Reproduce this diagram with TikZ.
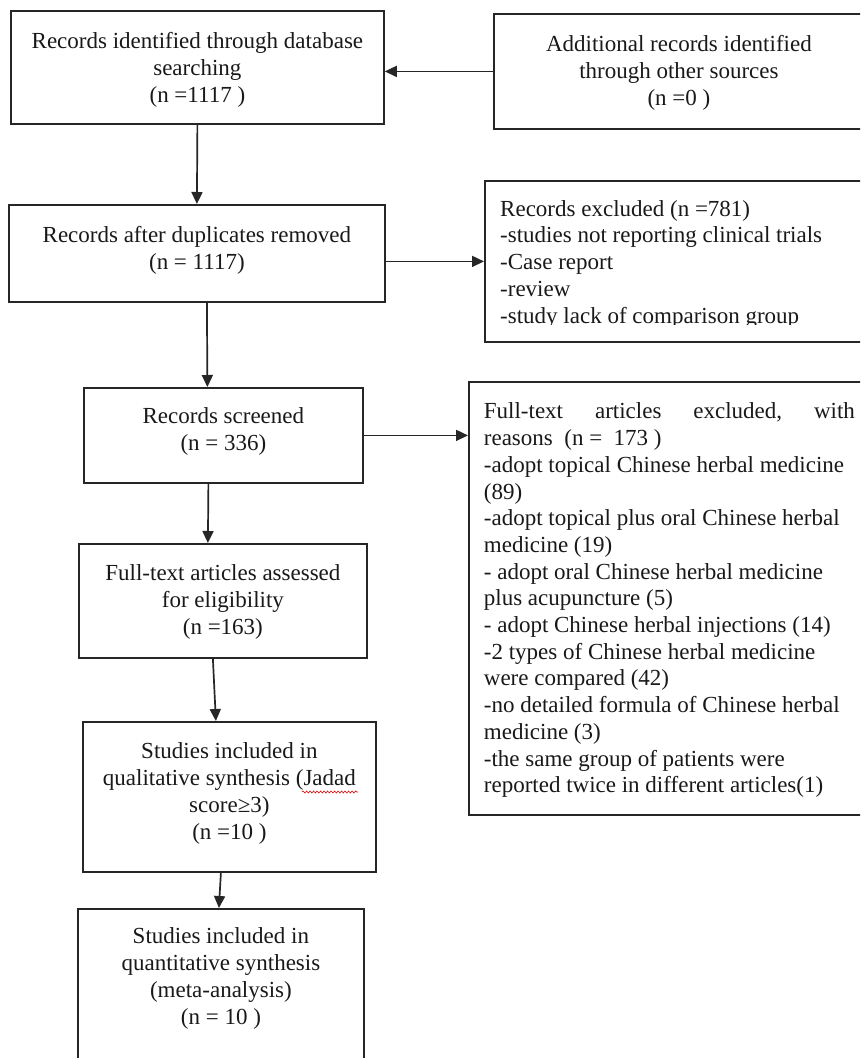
\documentclass[tikz,border=0pt]{standalone}
\usepackage{fontspec}
\setmainfont{Liberation Serif}
\usetikzlibrary{arrows.meta,decorations.pathmorphing}
\newcommand{\bxc}[4]{\parbox[c][#2][t]{#1}{\centering\rule{0pt}{#3}#4}}
\newcommand{\bxl}[5]{\parbox[c][#2][t]{#1}{\raggedright\leftskip=#4\rule{0pt}{#3}#5}}
\begin{document}
\begin{tikzpicture}[x=1pt,y=-1pt,
  box/.style={draw=black!85, line width=1.8pt, inner sep=0pt, anchor=north west,
    font=\fontsize{23}{26.7}\selectfont, text=black!90},
  txt/.style={inner sep=0pt, anchor=north west, font=\fontsize{23}{26.7}\selectfont, text=black!90},
  arr/.style={draw=black!85, line width=1.7pt, -{Triangle[length=12pt,width=11pt]}}]
\useasboundingbox (0,0) rectangle (860,1058);
\clip (0,0) rectangle (860,1058);
\fill[white] (0,0) rectangle (860,1058);

\node[box] (b1) at (10,10) {\bxc{373pt}{113pt}{38pt}{Records identified through database\\searching\\(n =1117 )}};
\node[box] (b2) at (493,13) {\bxc{370pt}{115pt}{38pt}{Additional records identified\\through other sources\\(n =0 )}};
\node[box] (b3) at (8,204) {\bxc{376pt}{97pt}{38pt}{Records after duplicates removed\\(n = 1117)}};
\node[box, minimum width=391pt, minimum height=161pt] (b4) at (484,180) {};
\begin{scope}
\clip (484,180) rectangle (880,324.5);
\node[txt] (b4t) at (500,180) {\parbox[t]{370pt}{\raggedright\rule{0pt}{36pt}Records excluded (n =781)\\-studies not reporting clinical trials\\-Case report\\-review\\-study lack of comparison group}};
\end{scope}
\node[box] (b5) at (83,387) {\bxc{279pt}{95pt}{36pt}{Records screened\\(n = 336)}};
\node[box] (b6) at (78,543) {\bxc{288pt}{114pt}{37pt}{Full-text articles assessed\\for eligibility\\(n =163)}};
\node[box] (b7) at (468,381) {\bxl{407pt}{433pt}{37pt}{15pt}{\hbox to 371pt{Full-text\hfill articles\hfill excluded,\hfill with}\\reasons\ \ (n =\ \ 173 )\\-adopt topical Chinese herbal medicine\\(89)\\-adopt topical plus oral Chinese herbal\\medicine (19)\\- adopt oral Chinese herbal medicine\\plus acupuncture (5)\\- adopt Chinese herbal injections (14)\\-2 types of Chinese herbal medicine\\were compared (42)\\-no detailed formula of Chinese herbal\\medicine (3)\\-the same group of patients were\\reported twice in different articles(1)}};
\node[box] (b8) at (82,721) {\bxc{293pt}{150pt}{37pt}{Studies included in\\qualitative synthesis (Jadad\\score≥3)\\(n =10 )}};
\node[box] (b9) at (77,908) {\bxc{286pt}{170pt}{35pt}{Studies included in\\quantitative synthesis\\(meta-analysis)\\(n = 10 )}};

\draw[red!85!black, line width=0.6pt, decorate, decoration={snake, amplitude=1pt, segment length=3.5pt}] (302,792) -- (358,792);

\draw[arr] (b2.west) -- (b2.west -| b1.east);
\draw[arr] (b1.south) -- (b3.north);
\draw[arr] (b3.east |- b4.west) -- (b4.west);
\draw[arr] ([xshift=10pt]b3.south) -- ([xshift=-16pt]b5.north);
\draw[arr] ([xshift=-15pt]b5.south) -- ([xshift=-15pt]b6.north);
\draw[arr] (b5.east) -- (b5.east -| b7.west);
\draw[arr] ([xshift=-10pt]b6.south) -- ([xshift=-13.5pt]b8.north);
\draw[arr] ([xshift=-8.5pt]b8.south) -- ([xshift=-2pt]b9.north);
\end{tikzpicture}
\end{document}
